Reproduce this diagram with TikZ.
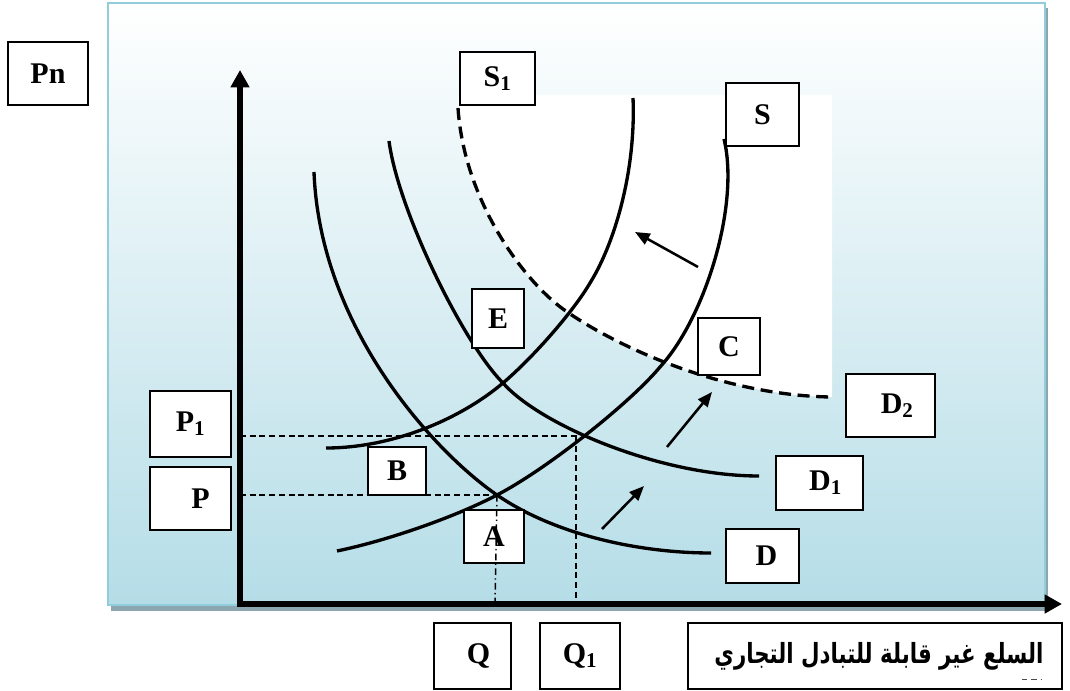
\documentclass[tikz,border=0pt]{standalone}
\usepackage{fontspec}
\setmainfont{Liberation Serif}
\newfontfamily\arabicfont[Script=Arabic]{DejaVu Sans}
\TeXXeTstate=1
\usetikzlibrary{arrows.meta}
\definecolor{bgblue}{RGB}{181,221,231}
\definecolor{bordblue}{RGB}{146,205,220}
\definecolor{shadowgrey}{RGB}{140,166,176}
\begin{document}
\begin{tikzpicture}[x=0.75pt,y=-0.75pt,
  box/.style={draw=black, line width=1.3pt, fill=white, inner sep=0pt,
    font=\fontsize{22.5}{27}\selectfont\bfseries},
  curve/.style={line width=2.5pt, line cap=butt},
  shiftcurve/.style={line width=2.5pt, dash pattern=on 9pt off 5pt},
  guide/.style={line width=1.1pt, dash pattern=on 4.5pt off 2.8pt},
  guidedot/.style={line width=1.1pt, dash pattern=on 5pt off 2.5pt on 1pt off 2.5pt},
  shiftarrow/.style={line width=1.9pt, -{Triangle[length=11pt,width=9pt]}},
  axis/.style={line width=3.8pt, line join=miter,
    {Triangle[length=13pt,width=13.5pt]}-{Triangle[length=13pt,width=13.5pt]}}]
\useasboundingbox (0,0) rectangle (1070,691);

% background panel
\fill[shadowgrey] (111,8) rectangle (1048,611);
\shade[top color=white, bottom color=bgblue] (108,3) rectangle (1045,605);
\draw[bordblue, line width=1.5pt] (108,3) rectangle (1045,605);

% white patch above D2
\fill[white] (458,108) .. controls (464,200) and (523,280) .. (563,309)
  .. controls (613,345) and (720,395) .. (830,397)
  -- (832,397) -- (832,95) -- (458,95) -- cycle;

% axes coordinates
\coordinate (O) at (240,604);
\coordinate (ytip) at (240,70);
\coordinate (xtip) at (1062,604);

% guide lines
\coordinate (pA) at (240,495);
\coordinate (A) at (497,495);
\coordinate (pB) at (240,436);
\coordinate (C1) at (580,436);
\coordinate (qA) at (495,604);
\coordinate (qC) at (576,604);
\coordinate (C1b) at (576,436);
\draw[guide] (pA) -- (A);
\draw[guide] (pB) -- (C1);
\draw[guide] (C1b) -- (qC);

% demand curves
\draw[curve] (314,172) .. controls (320,330) and (437,454) .. (497,495)
  .. controls (555,535) and (640,553) .. (711,553);
\draw[curve] (389,141) .. controls (398,210) and (463,343) .. (503,383)
  .. controls (540,425) and (660,476) .. (759,476);
\draw[shiftcurve] (458,108) .. controls (464,200) and (523,280) .. (563,309)
  .. controls (613,345) and (720,395) .. (830,397);

% supply curves
\draw[curve] (337,551) .. controls (390,540) and (457,516) .. (497,495)
  .. controls (547,469) and (630,403) .. (660,367)
  .. controls (705,318) and (740,205) .. (724,139);
\draw[curve] (326,448) .. controls (390,448) and (458,421) .. (503,383)
  .. controls (533,357.5) and (573,312) .. (590,283)
  .. controls (615,243) and (636,170) .. (633,98);

% shift arrows
\coordinate (a1s) at (602,529); \coordinate (a1e) at (644,486);
\coordinate (a2s) at (667,447); \coordinate (a2e) at (712,392);
\coordinate (a3s) at (698,267); \coordinate (a3e) at (635,232);
\draw[shiftarrow] (a1s) -- (a1e);
\draw[shiftarrow] (a2s) -- (a2e);
\draw[shiftarrow] (a3s) -- (a3e);

% axes
\draw[axis] (ytip) -- (O) -- (xtip);

% label boxes
\node[box, minimum width=60pt, minimum height=47.25pt] (Pn) at (48,73.5) {Pn};
\node[box, minimum width=56.25pt, minimum height=39.75pt] (S1) at (497.5,78.5) {S\textsubscript{1}};
\node[box, minimum width=54.75pt, minimum height=47.25pt] (S) at (762.5,114.5) {S};
\node[box, minimum width=39pt, minimum height=44.25pt] (E) at (498,318.5) {E};
\node[box, minimum width=46.5pt, minimum height=42.75pt] (C) at (729,346.5) {C};
\node[box, minimum width=66.75pt, minimum height=47.25pt] (D2) at (890.5,405.5) {\hspace*{10pt}D\textsubscript{2}};
\node[box, minimum width=60.75pt, minimum height=49.5pt] (P1) at (190.5,424) {P\textsubscript{1}};
\node[box, minimum width=60.75pt, minimum height=47.25pt] (P) at (190.5,498.5) {\hspace*{15pt}P};
\node[box, minimum width=43.5pt, minimum height=36pt] (B) at (397,471) {B};
\node[box, minimum width=45pt, minimum height=39.75pt] (Abox) at (494,536.5) {A};
\node[box, minimum width=65.25pt, minimum height=40.5pt] (D1) at (819.5,483) {\hspace*{9pt}D\textsubscript{1}};
\node[box, minimum width=54.75pt, minimum height=40.5pt] (D) at (762.5,556) {\hspace*{6pt}D};
\node[box, minimum width=57.75pt, minimum height=49.5pt] (Q) at (472.5,656) {\hspace*{9pt}Q};
\node[box, minimum width=60pt, minimum height=49.5pt] (Q1) at (580,656) {Q\textsubscript{1}};
\node[box, minimum width=280.5pt, minimum height=49.5pt] (goods) at (875,656)
  {\hspace*{6pt}\scalebox{1}[1.3]{\arabicfont\bfseries\fontsize{16}{20}\selectfont\beginR السلع غير قابلة للتبادل التجاري\endR}};
\coordinate (m1) at (1022,679); \coordinate (m2) at (1041,679);
\draw[line width=0.5pt, dash pattern=on 4pt off 3pt, black!70] (m1) -- (m2);

% quantity guide through A (drawn over box A)
\draw[guidedot] (A) -- (qA);
\end{tikzpicture}
\end{document}
